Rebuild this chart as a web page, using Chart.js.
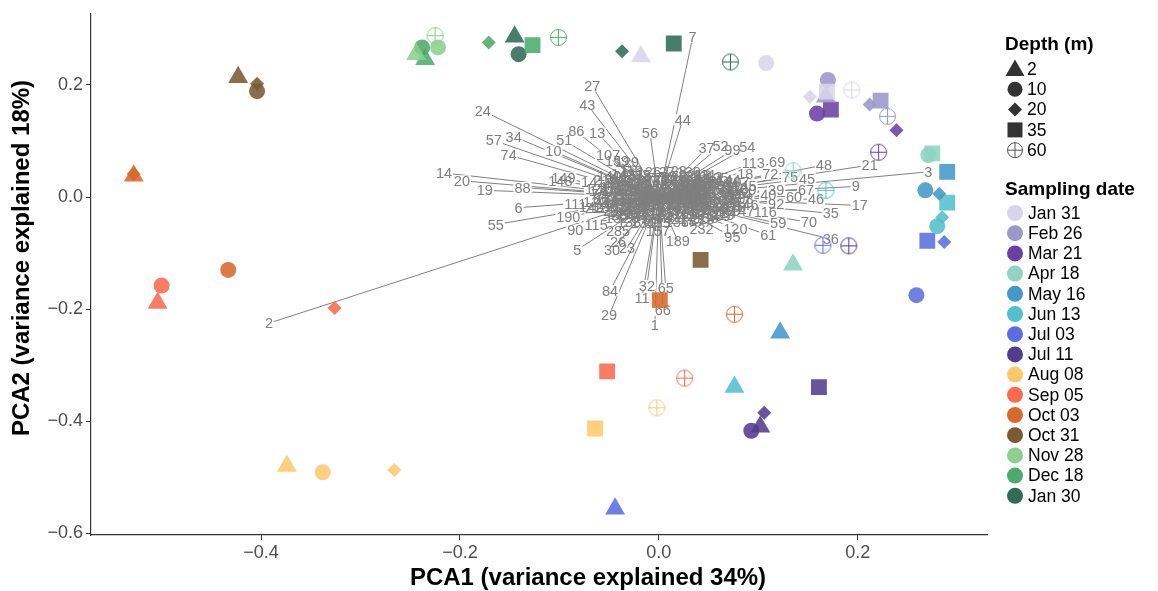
<!DOCTYPE html>
<html>
<head>
    <title>PCA biplot</title>
    <script src="https://cdn.jsdelivr.net/npm/chart.js"></script>
    <style>
        body { margin: 0; background: #fff; }
    </style>
</head>
<body>
    <canvas id="pcaChart" width="1158" height="591"></canvas>

    <script>
        // ---- data ----
        const dates = ['Jan 31', 'Feb 26', 'Mar 21', 'Apr 18', 'May 16', 'Jun 13', 'Jul 03', 'Jul 11',
                       'Aug 08', 'Sep 05', 'Oct 03', 'Oct 31', 'Nov 28', 'Dec 18', 'Jan 30'];
        const dateColors = ['#d8d5ea', '#9c96cb', '#6b3fa3', '#8fd4c1', '#4298c6', '#53bfcb', '#5b6ee0', '#513c8f',
                            '#fbc96c', '#f96a4e', '#d56a2c', '#7a5a32', '#8bd08e', '#4cab6c', '#2f6b57'];
        const depthLevels = [2, 10, 20, 35, 60];

        // one row per sampling date (same order as dates)
        const sampleDepth = [
            [2, 10, 20, 35, 60],   // Jan 31
            [2, 10, 20, 35, 60],   // Feb 26
            [10, 20, 35, 60],      // Mar 21
            [2, 10, 35, 60],       // Apr 18
            [2, 10, 20, 35],       // May 16
            [2, 10, 20, 35, 60],   // Jun 13
            [2, 10, 20, 35, 60],   // Jul 03
            [2, 10, 20, 35, 60],   // Jul 11
            [2, 10, 20, 35, 60],   // Aug 08
            [2, 10, 20, 35, 60],   // Sep 05
            [2, 10, 20, 35, 60],   // Oct 03
            [2, 10, 20, 35],       // Oct 31
            [2, 10, 60],           // Nov 28
            [2, 10, 20, 35, 60],   // Dec 18
            [2, 10, 20, 35, 60]    // Jan 30
        ];
        const samplePC1 = [
            [-0.018, 0.108, 0.152, 0.169, 0.194],
            [0.168, 0.170, 0.212, 0.223, 0.230],
            [0.159, 0.239, 0.173, 0.221],
            [0.135, 0.271, 0.275, 0.135],
            [0.122, 0.268, 0.282, 0.290],
            [0.076, 0.280, 0.285, 0.290, 0.168],
            [-0.044, 0.259, 0.287, 0.270, 0.165],
            [0.102, 0.093, 0.106, 0.161, 0.191],
            [-0.374, -0.338, -0.266, -0.064, -0.002],
            [-0.504, -0.500, -0.326, -0.052, 0.026],
            [-0.528, -0.433, -0.528, 0.001, 0.076],
            [-0.423, -0.404, -0.404, 0.042],
            [-0.244, -0.222, -0.225],
            [-0.235, -0.238, -0.171, -0.127, -0.101],
            [-0.145, -0.141, -0.037, 0.015, 0.072]
        ];
        const samplePC2 = [
            [0.251, 0.239, 0.179, 0.188, 0.191],
            [0.179, 0.209, 0.165, 0.172, 0.144],
            [0.149, 0.119, 0.156, 0.080],
            [-0.121, 0.075, 0.078, 0.047],
            [-0.242, 0.012, 0.006, 0.045],
            [-0.339, -0.052, -0.036, -0.010, 0.012],
            [-0.556, -0.175, -0.080, -0.078, -0.086],
            [-0.410, -0.417, -0.385, -0.339, -0.087],
            [-0.480, -0.491, -0.487, -0.413, -0.376],
            [-0.189, -0.158, -0.198, -0.311, -0.323],
            [0.038, -0.130, 0.041, -0.184, -0.209],
            [0.214, 0.189, 0.202, -0.112],
            [0.255, 0.267, 0.288],
            [0.246, 0.267, 0.276, 0.271, 0.285],
            [0.286, 0.255, 0.260, 0.274, 0.241]
        ];

        // variable loadings (arrow tips, where the labels sit)
        const loadingLabels = [
            '7', '27', '43', '24', '86', '13', '56', '44', '57', '34',
            '51', '10', '74', '107', '14', '20', '19', '88', '6', '111',
            '55', '190', '90', '115', '5', '30', '23', '285', '26', '157',
            '189', '232', '95', '120', '61', '37', '52', '99', '54', '113',
            '69', '48', '21', '3', '18', '72', '75', '45', '9', '67',
            '39', '60', '46', '17', '40', '92', '35', '116', '70', '59',
            '36', '84', '29', '32', '65', '11', '66', '1', '2', '148',
            '149', '159', '129',
            '4', '8', '12', '15', '16', '22', '25', '28', '31', '33',
            '38', '41', '42', '47', '49', '50', '53', '58', '62', '63',
            '64', '68', '71', '73', '76', '77', '78', '79', '80', '81',
            '82', '83', '85', '87', '89', '91', '93', '94', '96', '97',
            '98', '100', '101', '102', '103', '104', '105', '106', '108', '109',
            '110', '112', '114', '117', '118', '119', '121', '122', '123', '124',
            '125', '126', '127', '128', '130', '131', '132', '133', '134', '135',
            '136', '137', '138', '139', '140', '141', '142', '143', '144', '145',
            '146', '147', '150', '151', '152', '153', '154', '155', '156', '158',
            '160', '161', '162', '163', '164', '165', '166', '167', '168', '169',
            '170', '171', '172', '173', '174', '175', '176', '177', '178', '179',
            '180', '181', '182', '183', '184', '185', '186', '187', '188', '191',
            '192', '193', '194', '195', '196', '197', '198', '199', '200', '201',
            '202', '203', '204', '205', '206', '207', '208', '209', '210', '211',
            '212', '213', '214', '215', '216', '217', '218', '219', '220', '221',
            '222', '223', '224', '225', '226', '227', '228', '229', '230', '231'
        ];
        const loadingPC1 = [
            0.034, -0.067, -0.072, -0.177, -0.083, -0.062, -0.009, 0.024, -0.166, -0.146,
            -0.095, -0.106, -0.151, -0.051, -0.216, -0.198, -0.175, -0.137, -0.141, -0.084,
            -0.164, -0.091, -0.084, -0.063, -0.082, -0.047, -0.032, -0.041, -0.041, -0.001,
            0.019, 0.043, 0.074, 0.077, 0.110, 0.048, 0.062, 0.074, 0.089, 0.095,
            0.119, 0.166, 0.212, 0.271, 0.087, 0.112, 0.132, 0.149, 0.198, 0.148,
            0.118, 0.136, 0.158, 0.202, 0.110, 0.118, 0.173, 0.107, 0.151, 0.120,
            0.173, -0.049, -0.050, -0.012, 0.007, -0.017, 0.004, -0.004, -0.392, -0.099,
            -0.096, -0.042, -0.032,
            -0.052, -0.045, -0.038, -0.030, -0.055, -0.048, -0.040, -0.028, -0.018, -0.008,
            0.005, 0.015, 0.028, 0.040, 0.052, 0.062, 0.070, 0.075, 0.072, 0.066,
            0.056, 0.044, 0.032, 0.020, 0.008, -0.004, -0.016, -0.060, -0.058, -0.035,
            -0.025, -0.015, 0.010, 0.025, 0.040, 0.052, 0.058, 0.050, 0.036, 0.022,
            0.008, -0.008, -0.022, -0.034, -0.044, -0.046, -0.030, -0.020, 0.030, 0.040,
            0.020, 0.078, 0.082, 0.080, 0.076, -0.028, -0.062, -0.064, -0.056, 0.066,
            0.058, -0.010, 0.004, 0.016, 0.030, 0.046, -0.042, -0.030, -0.016, 0.000,
            0.018, 0.034, 0.048, 0.060, -0.050, -0.066, -0.068, -0.036, 0.070, 0.086,
            0.088, 0.084, -0.005, 0.012, 0.002, -0.012, 0.018, -0.026, 0.048, 0.064,
            -0.040, 0.026, -0.002, 0.060, 0.032, -0.024, 0.044, 0.012, -0.050, 0.070,
            -0.058, -0.052, -0.047, -0.043, -0.039, -0.036, -0.033, -0.029, -0.026, -0.022,
            -0.019, -0.014, -0.011, -0.007, -0.003, 0.003, 0.007, 0.011, 0.015, 0.019,
            0.023, 0.027, 0.031, 0.035, 0.038, 0.042, 0.046, 0.050, 0.054, 0.057,
            0.061, 0.064, 0.068, 0.072, 0.075, 0.079, 0.083, 0.086, -0.062, -0.054,
            0.040, 0.052, 0.062, -0.020, -0.006, 0.024, 0.044, 0.064, 0.072, -0.044,
            0.046, 0.028, 0.012, -0.010, 0.058, 0.068, 0.036, 0.016, -0.030, 0.050
        ];
        const loadingPC2 = [
            0.285, 0.198, 0.165, 0.154, 0.117, 0.114, 0.115, 0.138, 0.101, 0.108,
            0.101, 0.082, 0.075, 0.075, 0.043, 0.029, 0.012, 0.017, -0.019, -0.013,
            -0.049, -0.036, -0.059, -0.050, -0.094, -0.094, -0.091, -0.061, -0.080, -0.061,
            -0.078, -0.057, -0.071, -0.057, -0.068, 0.087, 0.091, 0.084, 0.089, 0.061,
            0.063, 0.057, 0.057, 0.045, 0.041, 0.041, 0.036, 0.033, 0.019, 0.013,
            0.013, 0.001, -0.004, -0.015, 0.003, -0.012, -0.029, -0.026, -0.045, -0.047,
            -0.075, -0.167, -0.211, -0.158, -0.163, -0.181, -0.202, -0.228, -0.225, 0.029,
            0.034, 0.064, 0.063,
            0.022, 0.030, 0.035, 0.038, -0.012, -0.025, -0.032, -0.038, -0.035, -0.040,
            -0.038, -0.036, -0.034, -0.030, -0.026, -0.020, -0.012, -0.002, 0.010, 0.020,
            0.027, 0.032, 0.036, 0.038, 0.036, 0.034, 0.037, 0.005, -0.004, 0.020,
            0.025, 0.020, 0.022, 0.024, 0.020, 0.012, 0.000, -0.012, -0.020, -0.024,
            -0.026, -0.024, -0.022, -0.018, -0.008, 0.008, 0.006, -0.008, 0.008, -0.004,
            -0.010, 0.016, 0.006, -0.008, -0.018, 0.046, 0.014, -0.008, -0.020, -0.028,
            0.034, 0.044, 0.044, 0.046, 0.044, 0.040, -0.038, -0.044, -0.046, -0.046,
            -0.044, -0.042, -0.038, -0.034, 0.038, 0.026, -0.018, 0.042, 0.030, 0.020,
            -0.014, -0.024, 0.010, 0.008, -0.012, -0.014, 0.014, 0.014, 0.024, 0.004,
            -0.026, -0.030, 0.028, -0.014, 0.026, -0.030, 0.010, -0.018, 0.016, -0.024,
            0.010, -0.006, 0.018, -0.016, 0.026, -0.006, 0.012, -0.020, 0.030, -0.014,
            0.022, -0.028, 0.030, -0.018, 0.022, -0.030, 0.030, -0.014, 0.028, -0.022,
            0.016, -0.016, 0.030, -0.008, 0.016, -0.024, 0.028, -0.004, 0.020, -0.022,
            0.014, -0.006, 0.024, -0.016, 0.008, 0.026, -0.004, 0.012, -0.020, 0.030,
            0.040, 0.036, 0.028, 0.040, -0.032, -0.040, -0.040, -0.032, 0.018, 0.000,
            0.000, 0.018, -0.004, 0.004, 0.008, -0.010, 0.022, 0.034, -0.030, -0.030
        ];

        const xTicks = [-0.4, -0.2, 0, 0.2];
        const yTicks = [-0.6, -0.4, -0.2, 0, 0.2];

        // ---- drawing ----
        const FONT = '"Liberation Sans", Arial, sans-serif';
        const shapeFor = { 2: 'triangle', 10: 'circle', 20: 'rectRot', 35: 'rect' };
        const radiusFor = { 2: 11.5, 10: 8, 20: 7, 35: 11.2, 60: 8 };

        function hexAlpha(hex, a) {
            const n = parseInt(hex.slice(1), 16);
            return `rgba(${n >> 16}, ${(n >> 8) & 255}, ${n & 255}, ${a})`;
        }

        function crossCircle(color) {
            const c = document.createElement('canvas');
            c.width = 19; c.height = 19;
            const g = c.getContext('2d');
            g.strokeStyle = color;
            g.lineWidth = 1;
            g.beginPath();
            g.arc(9.5, 9.5, 8, 0, Math.PI * 2);
            g.moveTo(1.5, 9.5); g.lineTo(17.5, 9.5);
            g.moveTo(9.5, 1.5); g.lineTo(9.5, 17.5);
            g.stroke();
            return c;
        }

        const tickFmt = v => (v < 0 ? '\u2212' : '') + Math.abs(v).toFixed(1);

        // arrows from the origin, broken by empty points
        const arrowData = [];
        loadingLabels.forEach((lab, i) => {
            arrowData.push({ x: 0, y: 0 }, { x: loadingPC1[i], y: loadingPC2[i] }, { x: null, y: null });
        });

        const datasets = [{
            label: 'loadings',
            data: arrowData,
            showLine: true,
            spanGaps: false,
            borderColor: '#808080',
            borderWidth: 1,
            pointRadius: 0,
            order: 100
        }];

        dates.forEach((d, i) => {
            const cross = crossCircle(dateColors[i]);
            datasets.push({
                label: d,
                data: sampleDepth[i].map((dep, j) => ({ x: samplePC1[i][j], y: samplePC2[i][j] })),
                pointStyle: sampleDepth[i].map(dep => dep === 60 ? cross : shapeFor[dep]),
                pointRadius: sampleDepth[i].map(dep => radiusFor[dep]),
                backgroundColor: hexAlpha(dateColors[i], 0.88),
                borderWidth: 0,
                order: 1
            });
        });

        const loadingText = {
            id: 'loadingText',
            afterDatasetDraw(chart, args) {
                if (args.index !== 0) return;
                const { ctx, scales: { x, y } } = chart;
                const ox = x.getPixelForValue(0), oy = y.getPixelForValue(0);
                ctx.save();
                ctx.font = '14.5px ' + FONT;
                ctx.textAlign = 'center';
                ctx.textBaseline = 'middle';
                const pos = loadingLabels.map((lab, i) => [x.getPixelForValue(loadingPC1[i]), y.getPixelForValue(loadingPC2[i])]);
                ctx.fillStyle = '#fff';
                loadingLabels.forEach((lab, i) => {
                    const [px, py] = pos[i];
                    if (Math.hypot(px - ox, py - oy) > 62) {
                        const w = ctx.measureText(lab).width;
                        ctx.fillRect(px - w / 2 - 1, py - 5.5, w + 2, 11);
                    }
                });
                ctx.fillStyle = '#7f7f7f';
                loadingLabels.forEach((lab, i) => ctx.fillText(lab, pos[i][0], pos[i][1] + 1));
                ctx.restore();
            }
        };

        function legendShape(ctx, dep, cx, cy, color) {
            ctx.fillStyle = color;
            ctx.strokeStyle = color;
            ctx.beginPath();
            if (dep === 2) {
                const r = 11;
                ctx.moveTo(cx, cy - r);
                ctx.lineTo(cx + r * 0.866, cy + r * 0.5);
                ctx.lineTo(cx - r * 0.866, cy + r * 0.5);
                ctx.closePath();
                ctx.fill();
            } else if (dep === 10) {
                ctx.arc(cx, cy, 7.5, 0, Math.PI * 2);
                ctx.fill();
            } else if (dep === 20) {
                const r = 7;
                ctx.moveTo(cx, cy - r); ctx.lineTo(cx + r, cy); ctx.lineTo(cx, cy + r); ctx.lineTo(cx - r, cy);
                ctx.closePath();
                ctx.fill();
            } else if (dep === 35) {
                ctx.rect(cx - 7.5, cy - 7.5, 15, 15);
                ctx.fill();
            } else {
                ctx.lineWidth = 1;
                ctx.arc(cx, cy, 7.5, 0, Math.PI * 2);
                ctx.moveTo(cx - 7.5, cy); ctx.lineTo(cx + 7.5, cy);
                ctx.moveTo(cx, cy - 7.5); ctx.lineTo(cx, cy + 7.5);
                ctx.stroke();
            }
        }

        const sideLegend = {
            id: 'sideLegend',
            afterDraw(chart) {
                const ctx = chart.ctx;
                ctx.save();
                ctx.textBaseline = 'middle';
                ctx.textAlign = 'left';
                ctx.fillStyle = '#000';
                ctx.font = 'bold 19px ' + FONT;
                ctx.fillText('Depth (m)', 1005, 45);
                depthLevels.forEach((dep, i) => {
                    const cy = 69 + i * 20.3;
                    legendShape(ctx, dep, 1015, cy + (dep === 2 ? 1.5 : 0), dep === 60 ? '#555' : '#333');
                    ctx.fillStyle = '#000';
                    ctx.font = '17.5px ' + FONT;
                    ctx.fillText(String(dep), 1027, cy + 1);
                });
                ctx.font = 'bold 19px ' + FONT;
                ctx.fillText('Sampling date', 1005, 190);
                dates.forEach((d, i) => {
                    const cy = 213 + i * 20.2;
                    ctx.fillStyle = dateColors[i];
                    ctx.beginPath();
                    ctx.arc(1015, cy, 8, 0, Math.PI * 2);
                    ctx.fill();
                    ctx.fillStyle = '#000';
                    ctx.font = '17.5px ' + FONT;
                    ctx.fillText(d, 1028, cy + 1);
                });

                // axis titles
                ctx.font = 'bold 24px ' + FONT;
                ctx.textAlign = 'center';
                ctx.fillText('PCA1 (variance explained 34%)', 588, 578);
                ctx.translate(22, 258);
                ctx.rotate(-Math.PI / 2);
                ctx.fillText('PCA2 (variance explained 18%)', 0, 0);
                ctx.restore();
            }
        };

        const axisCommon = {
            type: 'linear',
            grid: { drawOnChartArea: false, drawTicks: true, tickLength: 5, color: '#333', lineWidth: 1 },
            border: { display: true, color: '#333', width: 1.2 },
            ticks: { color: '#4d4d4d', font: { size: 18, family: FONT }, callback: tickFmt }
        };

        new Chart(document.getElementById('pcaChart').getContext('2d'), {
            type: 'scatter',
            data: { datasets: datasets },
            options: {
                responsive: false,
                animation: false,
                events: [],
                layout: { padding: { top: 9, right: 171, bottom: 0, left: 0 } },
                plugins: { legend: { display: false }, tooltip: { enabled: false } },
                scales: {
                    x: Object.assign({}, axisCommon, {
                        min: -0.571, max: 0.330,
                        ticks: Object.assign({}, axisCommon.ticks, { padding: 2, maxRotation: 0 }),
                        afterBuildTicks: s => { s.ticks = xTicks.map(v => ({ value: v })); },
                        afterFit: s => { s.height = 56; }
                    }),
                    y: Object.assign({}, axisCommon, {
                        min: -0.603, max: 0.327,
                        ticks: Object.assign({}, axisCommon.ticks, { padding: 3 }),
                        afterBuildTicks: s => { s.ticks = yTicks.map(v => ({ value: v })); },
                        afterFit: s => { s.width = 91; }
                    })
                }
            },
            plugins: [loadingText, sideLegend]
        });
    </script>
</body>
</html>
